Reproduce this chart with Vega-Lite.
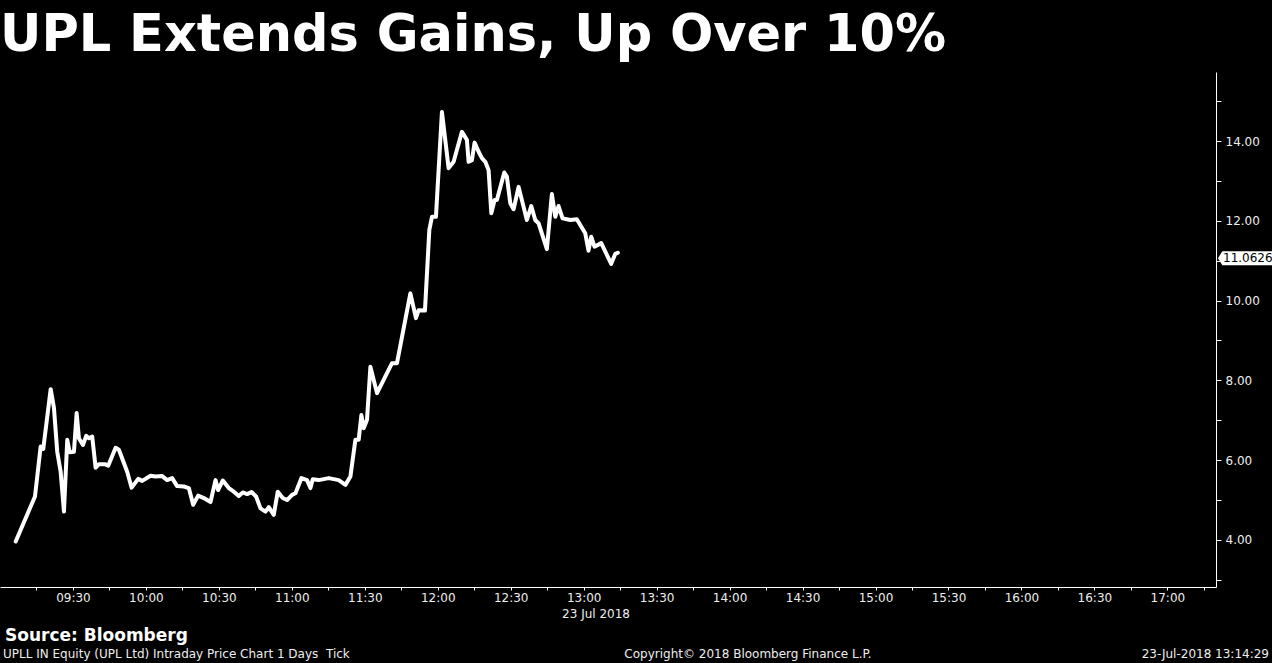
{
  "$schema": "https://vega.github.io/schema/vega-lite/v6.json",
  "width": 1216,
  "height": 515,
  "autosize": {"type": "none"},
  "padding": {"left": 0, "top": 72, "right": 56, "bottom": 76},
  "background": "#000000",
  "view": {"stroke": null},
  "title": {
    "text": "UPL Extends Gains, Up Over 10%",
    "anchor": "start",
    "frame": "group",
    "font": "DejaVu Sans",
    "fontSize": 51,
    "fontWeight": "bold",
    "color": "#ffffff",
    "offset": 10
  },
  "datasets": {
    "price": [
      {"t": "2018-07-23T09:06:27", "p": 3.96},
      {"t": "2018-07-23T09:14:23", "p": 5.09},
      {"t": "2018-07-23T09:16:43", "p": 6.34},
      {"t": "2018-07-23T09:17:47", "p": 6.28},
      {"t": "2018-07-23T09:20:50", "p": 7.78},
      {"t": "2018-07-23T09:22:11", "p": 7.31},
      {"t": "2018-07-23T09:23:32", "p": 6.21},
      {"t": "2018-07-23T09:24:56", "p": 5.71},
      {"t": "2018-07-23T09:26:18", "p": 4.71},
      {"t": "2018-07-23T09:27:39", "p": 6.51},
      {"t": "2018-07-23T09:28:38", "p": 6.20},
      {"t": "2018-07-23T09:30:24", "p": 6.21},
      {"t": "2018-07-23T09:31:31", "p": 7.18},
      {"t": "2018-07-23T09:32:27", "p": 6.55},
      {"t": "2018-07-23T09:34:06", "p": 6.38},
      {"t": "2018-07-23T09:35:27", "p": 6.61},
      {"t": "2018-07-23T09:36:34", "p": 6.55},
      {"t": "2018-07-23T09:37:55", "p": 6.59},
      {"t": "2018-07-23T09:39:19", "p": 5.81},
      {"t": "2018-07-23T09:40:40", "p": 5.90},
      {"t": "2018-07-23T09:43:08", "p": 5.90},
      {"t": "2018-07-23T09:44:30", "p": 5.86},
      {"t": "2018-07-23T09:47:32", "p": 6.31},
      {"t": "2018-07-23T09:48:53", "p": 6.26},
      {"t": "2018-07-23T09:52:18", "p": 5.71},
      {"t": "2018-07-23T09:54:07", "p": 5.31},
      {"t": "2018-07-23T09:56:49", "p": 5.53},
      {"t": "2018-07-23T09:58:28", "p": 5.48},
      {"t": "2018-07-23T10:01:55", "p": 5.61},
      {"t": "2018-07-23T10:03:58", "p": 5.59},
      {"t": "2018-07-23T10:06:41", "p": 5.60},
      {"t": "2018-07-23T10:08:44", "p": 5.50},
      {"t": "2018-07-23T10:10:47", "p": 5.55},
      {"t": "2018-07-23T10:12:50", "p": 5.35},
      {"t": "2018-07-23T10:15:36", "p": 5.34},
      {"t": "2018-07-23T10:17:39", "p": 5.30},
      {"t": "2018-07-23T10:19:25", "p": 4.88},
      {"t": "2018-07-23T10:21:28", "p": 5.11},
      {"t": "2018-07-23T10:23:49", "p": 5.05},
      {"t": "2018-07-23T10:26:34", "p": 4.95},
      {"t": "2018-07-23T10:28:37", "p": 5.50},
      {"t": "2018-07-23T10:29:41", "p": 5.25},
      {"t": "2018-07-23T10:31:37", "p": 5.49},
      {"t": "2018-07-23T10:34:05", "p": 5.30},
      {"t": "2018-07-23T10:36:08", "p": 5.21},
      {"t": "2018-07-23T10:38:11", "p": 5.10},
      {"t": "2018-07-23T10:39:50", "p": 5.19},
      {"t": "2018-07-23T10:41:36", "p": 5.15},
      {"t": "2018-07-23T10:43:25", "p": 5.20},
      {"t": "2018-07-23T10:45:18", "p": 5.09},
      {"t": "2018-07-23T10:47:07", "p": 4.79},
      {"t": "2018-07-23T10:49:10", "p": 4.71},
      {"t": "2018-07-23T10:50:31", "p": 4.82},
      {"t": "2018-07-23T10:52:34", "p": 4.63},
      {"t": "2018-07-23T10:54:13", "p": 5.21},
      {"t": "2018-07-23T10:56:16", "p": 5.05},
      {"t": "2018-07-23T10:58:02", "p": 5.00},
      {"t": "2018-07-23T11:00:05", "p": 5.13},
      {"t": "2018-07-23T11:01:29", "p": 5.17},
      {"t": "2018-07-23T11:03:57", "p": 5.55},
      {"t": "2018-07-23T11:06:15", "p": 5.50},
      {"t": "2018-07-23T11:07:39", "p": 5.30},
      {"t": "2018-07-23T11:08:36", "p": 5.52},
      {"t": "2018-07-23T11:11:04", "p": 5.50},
      {"t": "2018-07-23T11:15:10", "p": 5.55},
      {"t": "2018-07-23T11:19:17", "p": 5.50},
      {"t": "2018-07-23T11:22:02", "p": 5.38},
      {"t": "2018-07-23T11:24:05", "p": 5.59},
      {"t": "2018-07-23T11:26:08", "p": 6.51},
      {"t": "2018-07-23T11:27:29", "p": 6.51},
      {"t": "2018-07-23T11:28:36", "p": 7.13},
      {"t": "2018-07-23T11:29:33", "p": 6.80},
      {"t": "2018-07-23T11:30:54", "p": 7.01},
      {"t": "2018-07-23T11:32:18", "p": 8.34},
      {"t": "2018-07-23T11:35:01", "p": 7.68},
      {"t": "2018-07-23T11:41:11", "p": 8.43},
      {"t": "2018-07-23T11:43:14", "p": 8.43},
      {"t": "2018-07-23T11:48:44", "p": 10.18},
      {"t": "2018-07-23T11:51:02", "p": 9.56},
      {"t": "2018-07-23T11:52:08", "p": 9.76},
      {"t": "2018-07-23T11:54:44", "p": 9.75},
      {"t": "2018-07-23T11:56:32", "p": 11.77},
      {"t": "2018-07-23T11:57:37", "p": 12.10},
      {"t": "2018-07-23T11:59:15", "p": 12.10},
      {"t": "2018-07-23T12:01:43", "p": 14.73},
      {"t": "2018-07-23T12:04:28", "p": 13.32},
      {"t": "2018-07-23T12:06:31", "p": 13.48},
      {"t": "2018-07-23T12:09:56", "p": 14.23},
      {"t": "2018-07-23T12:11:59", "p": 14.03},
      {"t": "2018-07-23T12:12:41", "p": 13.48},
      {"t": "2018-07-23T12:14:02", "p": 13.52},
      {"t": "2018-07-23T12:15:09", "p": 13.96},
      {"t": "2018-07-23T12:16:48", "p": 13.73},
      {"t": "2018-07-23T12:18:09", "p": 13.57},
      {"t": "2018-07-23T12:19:33", "p": 13.48},
      {"t": "2018-07-23T12:20:54", "p": 13.27},
      {"t": "2018-07-23T12:22:01", "p": 12.19},
      {"t": "2018-07-23T12:23:22", "p": 12.52},
      {"t": "2018-07-23T12:24:19", "p": 12.52},
      {"t": "2018-07-23T12:27:21", "p": 13.21},
      {"t": "2018-07-23T12:28:25", "p": 13.11},
      {"t": "2018-07-23T12:29:49", "p": 12.44},
      {"t": "2018-07-23T12:31:11", "p": 12.29},
      {"t": "2018-07-23T12:33:14", "p": 12.85},
      {"t": "2018-07-23T12:36:38", "p": 12.02},
      {"t": "2018-07-23T12:38:27", "p": 12.37},
      {"t": "2018-07-23T12:40:05", "p": 12.02},
      {"t": "2018-07-23T12:41:27", "p": 11.94},
      {"t": "2018-07-23T12:44:52", "p": 11.29},
      {"t": "2018-07-23T12:46:55", "p": 12.67},
      {"t": "2018-07-23T12:48:19", "p": 12.10},
      {"t": "2018-07-23T12:49:40", "p": 12.37},
      {"t": "2018-07-23T12:51:19", "p": 12.06},
      {"t": "2018-07-23T12:53:04", "p": 12.04},
      {"t": "2018-07-23T12:54:28", "p": 12.02},
      {"t": "2018-07-23T12:57:11", "p": 12.04},
      {"t": "2018-07-23T13:00:38", "p": 11.69},
      {"t": "2018-07-23T13:01:59", "p": 11.25},
      {"t": "2018-07-23T13:03:06", "p": 11.60},
      {"t": "2018-07-23T13:04:27", "p": 11.35},
      {"t": "2018-07-23T13:07:13", "p": 11.44},
      {"t": "2018-07-23T13:11:19", "p": 10.92},
      {"t": "2018-07-23T13:12:58", "p": 11.17},
      {"t": "2018-07-23T13:14:02", "p": 11.20}
    ],
    "last": [{"label": "11.0626", "p": 11.0626}]
  },
  "layer": [
    {
      "data": {"name": "price"},
      "mark": {"type": "line", "color": "#ffffff", "strokeWidth": 4, "strokeJoin": "round", "strokeCap": "round"},
      "encoding": {
        "x": {
          "field": "t",
          "type": "temporal",
          "scale": {
            "domain": [
              {"year": 2018, "month": 7, "date": 23, "hours": 9, "minutes": 0},
              {"year": 2018, "month": 7, "date": 23, "hours": 17, "minutes": 20}
            ],
            "nice": false
          },
          "axis": {
            "orient": "bottom",
            "title": null,
            "grid": false,
            "values": [
              {"year": 2018, "month": 7, "date": 23, "hours": 9, "minutes": 15},
              {"year": 2018, "month": 7, "date": 23, "hours": 9, "minutes": 30},
              {"year": 2018, "month": 7, "date": 23, "hours": 9, "minutes": 45},
              {"year": 2018, "month": 7, "date": 23, "hours": 10, "minutes": 0},
              {"year": 2018, "month": 7, "date": 23, "hours": 10, "minutes": 15},
              {"year": 2018, "month": 7, "date": 23, "hours": 10, "minutes": 30},
              {"year": 2018, "month": 7, "date": 23, "hours": 10, "minutes": 45},
              {"year": 2018, "month": 7, "date": 23, "hours": 11, "minutes": 0},
              {"year": 2018, "month": 7, "date": 23, "hours": 11, "minutes": 15},
              {"year": 2018, "month": 7, "date": 23, "hours": 11, "minutes": 30},
              {"year": 2018, "month": 7, "date": 23, "hours": 11, "minutes": 45},
              {"year": 2018, "month": 7, "date": 23, "hours": 12, "minutes": 0},
              {"year": 2018, "month": 7, "date": 23, "hours": 12, "minutes": 15},
              {"year": 2018, "month": 7, "date": 23, "hours": 12, "minutes": 30},
              {"year": 2018, "month": 7, "date": 23, "hours": 12, "minutes": 45},
              {"year": 2018, "month": 7, "date": 23, "hours": 13, "minutes": 0},
              {"year": 2018, "month": 7, "date": 23, "hours": 13, "minutes": 15},
              {"year": 2018, "month": 7, "date": 23, "hours": 13, "minutes": 30},
              {"year": 2018, "month": 7, "date": 23, "hours": 13, "minutes": 45},
              {"year": 2018, "month": 7, "date": 23, "hours": 14, "minutes": 0},
              {"year": 2018, "month": 7, "date": 23, "hours": 14, "minutes": 15},
              {"year": 2018, "month": 7, "date": 23, "hours": 14, "minutes": 30},
              {"year": 2018, "month": 7, "date": 23, "hours": 14, "minutes": 45},
              {"year": 2018, "month": 7, "date": 23, "hours": 15, "minutes": 0},
              {"year": 2018, "month": 7, "date": 23, "hours": 15, "minutes": 15},
              {"year": 2018, "month": 7, "date": 23, "hours": 15, "minutes": 30},
              {"year": 2018, "month": 7, "date": 23, "hours": 15, "minutes": 45},
              {"year": 2018, "month": 7, "date": 23, "hours": 16, "minutes": 0},
              {"year": 2018, "month": 7, "date": 23, "hours": 16, "minutes": 15},
              {"year": 2018, "month": 7, "date": 23, "hours": 16, "minutes": 30},
              {"year": 2018, "month": 7, "date": 23, "hours": 16, "minutes": 45},
              {"year": 2018, "month": 7, "date": 23, "hours": 17, "minutes": 0},
              {"year": 2018, "month": 7, "date": 23, "hours": 17, "minutes": 15}
            ],
            "labelExpr": "minutes(datum.value) % 30 == 0 ? timeFormat(datum.value, '%H:%M') : ''",
            "labelOverlap": false,
            "labelBound": false,
            "labelFlush": false,
            "domainColor": "#ffffff",
            "tickColor": "#ffffff",
            "tickSize": 3,
            "labelColor": "#eeeeee",
            "labelFont": "DejaVu Sans",
            "labelFontSize": 12,
            "labelPadding": 2
          }
        },
        "y": {
          "field": "p",
          "type": "quantitative",
          "scale": {"domain": [2.82, 15.73], "nice": false, "zero": false},
          "axis": {
            "orient": "right",
            "title": null,
            "grid": false,
            "values": [3, 4, 5, 6, 7, 8, 9, 10, 11, 12, 13, 14, 15],
            "labelExpr": "datum.value % 2 == 0 ? format(datum.value, '.2f') : ''",
            "labelOverlap": false,
            "labelBound": false,
            "labelFlush": false,
            "domainColor": "#ffffff",
            "tickColor": "#ffffff",
            "tickSize": 5,
            "labelColor": "#eeeeee",
            "labelFont": "DejaVu Sans",
            "labelFontSize": 12,
            "labelPadding": 4
          }
        }
      }
    },
    {
      "data": {"name": "last"},
      "mark": {"type": "point", "filled": true, "color": "#ffffff", "opacity": 1, "shape": "M-1,0L-0.84,-0.26L1,-0.26L1,0.26L-0.84,0.26Z", "size": 2916},
      "encoding": {
        "x": {"value": 1245},
        "y": {"field": "p", "type": "quantitative"}
      }
    },
    {
      "data": {"name": "last"},
      "mark": {"type": "text", "color": "#000000", "font": "DejaVu Sans", "fontSize": 12, "align": "left", "baseline": "middle"},
      "encoding": {
        "x": {"value": 1223},
        "y": {"field": "p", "type": "quantitative"},
        "text": {"field": "label"}
      }
    },
    {
      "data": {"values": [{"label": "23 Jul 2018"}]},
      "mark": {"type": "text", "color": "#eeeeee", "font": "DejaVu Sans", "fontSize": 12, "align": "center", "baseline": "alphabetic"},
      "encoding": {
        "x": {"value": 596},
        "y": {"value": 546},
        "text": {"field": "label"}
      }
    },
    {
      "data": {"values": [{"label": "Source: Bloomberg"}]},
      "mark": {"type": "text", "color": "#ffffff", "font": "DejaVu Sans", "fontSize": 17, "fontWeight": "bold", "align": "left", "baseline": "alphabetic"},
      "encoding": {
        "x": {"value": 5},
        "y": {"value": 569},
        "text": {"field": "label"}
      }
    },
    {
      "data": {"values": [{"label": "UPLL IN Equity (UPL Ltd) Intraday Price Chart 1 Days\u00a0 Tick"}]},
      "mark": {"type": "text", "color": "#eeeeee", "font": "DejaVu Sans", "fontSize": 12, "align": "left", "baseline": "alphabetic"},
      "encoding": {
        "x": {"value": 3},
        "y": {"value": 586},
        "text": {"field": "label"}
      }
    },
    {
      "data": {"values": [{"label": "Copyright© 2018 Bloomberg Finance L.P."}]},
      "mark": {"type": "text", "color": "#eeeeee", "font": "DejaVu Sans", "fontSize": 12, "align": "center", "baseline": "alphabetic"},
      "encoding": {
        "x": {"value": 748},
        "y": {"value": 586},
        "text": {"field": "label"}
      }
    },
    {
      "data": {"values": [{"label": "23-Jul-2018 13:14:29"}]},
      "mark": {"type": "text", "color": "#eeeeee", "font": "DejaVu Sans", "fontSize": 12, "align": "right", "baseline": "alphabetic"},
      "encoding": {
        "x": {"value": 1269},
        "y": {"value": 586},
        "text": {"field": "label"}
      }
    }
  ]
}
